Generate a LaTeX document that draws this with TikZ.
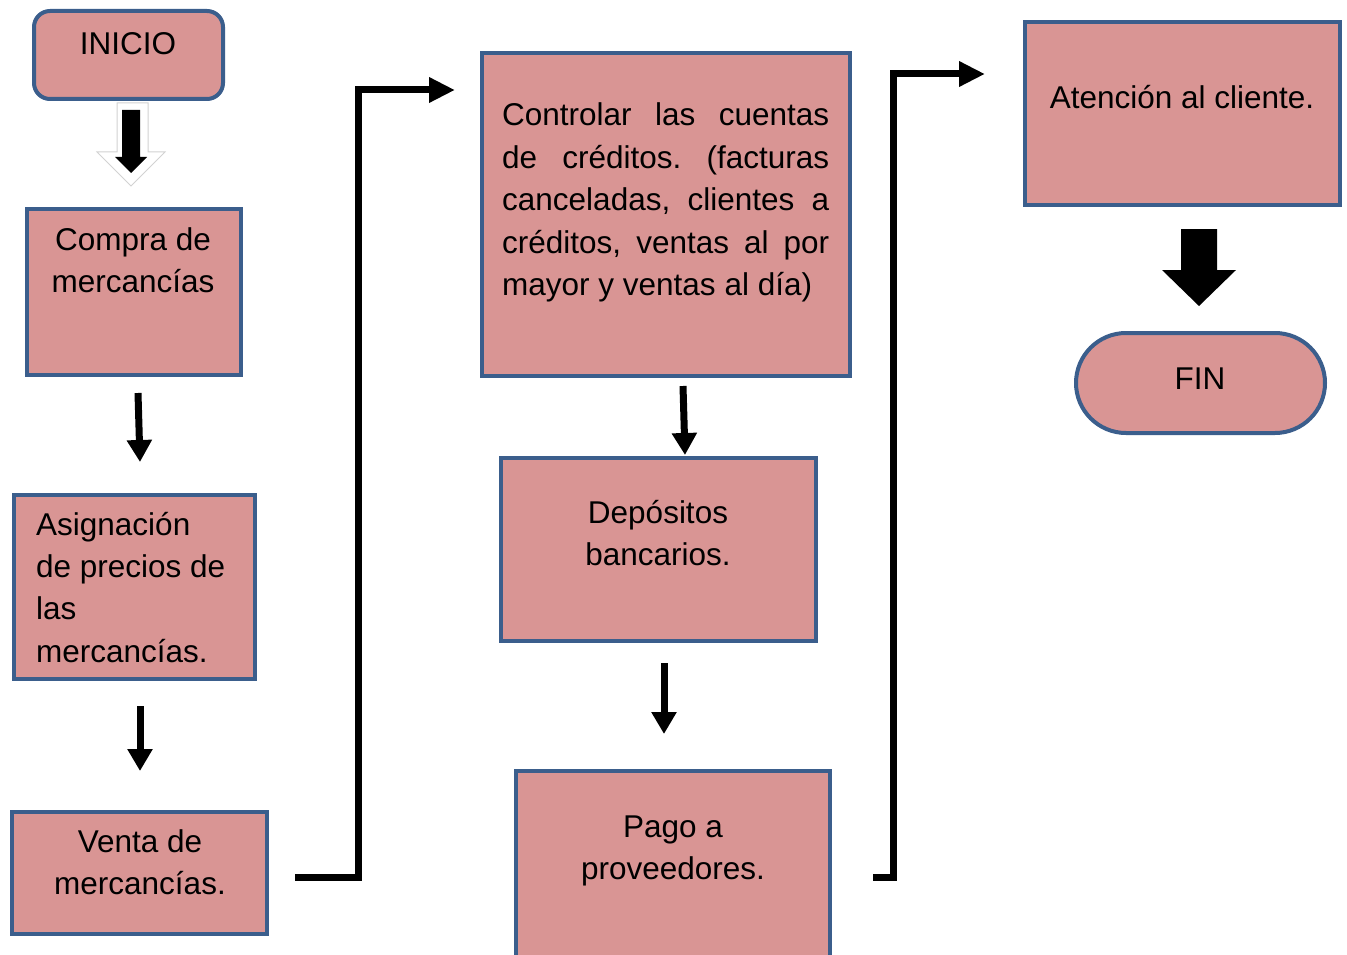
\documentclass[tikz,border=0pt]{standalone}
\usepackage{fontspec}
\setmainfont{Liberation Sans}
\usetikzlibrary{arrows.meta}
\definecolor{boxfill}{HTML}{D99594}
\definecolor{boxline}{HTML}{3B5E8C}
\begin{document}
\frenchspacing
\begin{tikzpicture}[x=1pt,y=-1pt,
  box/.style={draw=boxline,fill=boxfill,line width=4pt,inner sep=0pt},
  txt/.style={font=\fontsize{31.5}{41.5}\selectfont,inner sep=0pt,align=center,anchor=base},
  flow/.style={line width=7pt,-{Triangle[length=22pt,width=24pt]}},
  elbow/.style={line width=7pt,line join=miter,-{Triangle[length=26pt,width=24pt]}},
  blockarrow/.style={fill=black}
]
\useasboundingbox (0,0) rectangle (1347,955);

% boxes
\node[box,rounded corners=16pt,minimum width=189pt,minimum height=88pt] (inicio) at (128.5,55) {};
\node[box,minimum width=214pt,minimum height=166pt] (compra) at (134,292) {};
\node[box,minimum width=241pt,minimum height=184pt] (asign) at (134.5,587) {};
\node[box,minimum width=255pt,minimum height=122pt] (venta) at (139.5,873) {};
\node[box,minimum width=368pt,minimum height=323pt] (control) at (666,214.5) {};
\node[box,minimum width=315pt,minimum height=183pt] (depos) at (658.5,549.5) {};
\node[box,minimum width=314pt,minimum height=212pt] (pago) at (673,877) {};
\node[box,minimum width=315pt,minimum height=183pt] (atencion) at (1182.5,113.5) {};
\node[box,rounded corners=50pt,minimum width=249pt,minimum height=100pt] (fin) at (1200.5,383) {};

% texts (base anchor = baseline of the last line)
\node[txt] (tinicio) at (128,54.5) {INICIO};
\node[txt] (tcompra) at (133,292) {Compra de\\mercancías};
\node[txt,anchor=base west,align=left,font=\fontsize{31.5}{42.3}\selectfont] (tasign) at (36,662) {Asignación\\de precios de\\las\\mercancías.};
\node[txt] (tventa) at (140,894) {Venta de\\mercancías.};
\node[txt,anchor=base west,align=justify,text width=327pt,font=\fontsize{31.5}{42.5}\selectfont] (tcontrol) at (502,126)
  {Controlar las cuentas\linebreak de créditos. (facturas\linebreak canceladas, clientes a\linebreak créditos, ventas al por\linebreak mayor y ventas al día)};
\node[txt] (tdepos) at (658,565) {Depósitos\\bancarios.};
\node[txt] (tpago) at (673,879) {Pago a\\proveedores.};
\node[txt] (tatencion) at (1182,109) {Atención al cliente.};
\node[txt] (tfin) at (1200,389) {FIN};

% block arrow INICIO -> Compra
\draw[fill=white,draw=gray!35,line width=1pt] (117,103) -- (148,103) -- (148,152) -- (165,152) -- (131,186) -- (97,152) -- (117,152) -- cycle;
\fill[blockarrow] (122,110) -- (140,110) -- (140,157) -- (147,157) -- (131,173) -- (115,157) -- (122,157) -- cycle;

% thin arrows
\coordinate (a2s) at (138,393); \coordinate (a2e) at (140,462);
\coordinate (a3s) at (140,706); \coordinate (a3e) at (140,771);
\coordinate (a5s) at (683,386); \coordinate (a5e) at (685,455);
\coordinate (a6s) at (664,663); \coordinate (a6e) at (664,734);
\draw[flow] (a2s) -- (a2e);
\draw[flow] (a3s) -- (a3e);
\draw[flow] (a5s) -- (a5e);
\draw[flow] (a6s) -- (a6e);

% elbow connectors
\coordinate (e1s) at (295,877); \coordinate (e1e) at (455,90);
\coordinate (e2s) at (873,877); \coordinate (e2e) at (985,74);
\draw[elbow] (e1s) -- (358,877) -- (358,90) -- (e1e);
\draw[elbow] (e2s) -- (893,877) -- (893,74) -- (e2e);

% block arrow Atencion -> FIN
\fill[blockarrow] (1181,229) -- (1217,229) -- (1217,270) -- (1236,270) -- (1199,306) -- (1162,270) -- (1181,270) -- cycle;
\end{tikzpicture}
\end{document}
